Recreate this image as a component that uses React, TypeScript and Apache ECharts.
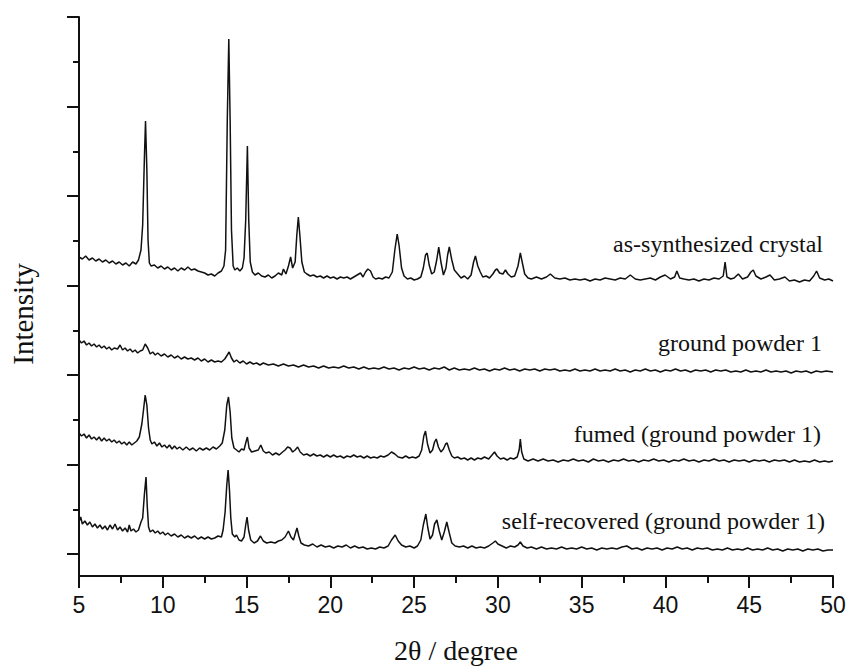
import React, { useEffect, useRef } from "react";
import * as echarts from "echarts";

// ---- axis settings (intensity in arbitrary units, traces offset vertically) ----
const X_MIN = 5;
const X_MAX = 50;
const X_STEP = 5;
const Y_MIN = -22;
const Y_MAX = 537;
const yMajorTicks = [0, 89.5, 179, 268.5, 358, 447.5, 537];
const yMinorTicks = [44.75, 134.25, 223.75, 313.25, 402.75, 492.25];

const xAxisName = "2θ / degree";
const yAxisName = "Intensity";

const traceNames = [
  "as-synthesized crystal",
  "ground powder 1",
  "fumed (ground powder 1)",
  "self-recovered (ground powder 1)",
];

// [2θ, intensity (a.u., offset)]
const asSynthesized: number[][] = [
  [5.0,297],[5.2,295],[5.4,298],[5.6,294],[5.8,296],[6.0,293],[6.2,295],[6.4,292],[6.6,294],[6.8,291],
  [7.0,293],[7.2,290],[7.4,292],[7.6,289],[7.8,291],[8.0,288],[8.2,292],[8.4,290],[8.55,294],[8.7,304],
  [8.8,329],[8.9,394],[8.97,433],[9.05,384],[9.12,314],[9.2,291],[9.3,288],[9.5,289],[9.7,286],[9.9,288],
  [10.1,285],[10.3,287],[10.5,284],[10.7,286],[10.9,283],[11.1,286],[11.3,284],[11.5,287],[11.7,284],[11.9,285],
  [12.1,283],[12.3,282],[12.5,281],[12.7,279],[12.9,280],[13.1,278],[13.3,281],[13.5,283],[13.65,288],[13.75,304],
  [13.85,434],[13.94,515],[14.02,434],[14.1,324],[14.2,288],[14.3,284],[14.45,286],[14.6,283],[14.75,286],[14.85,296],
  [14.95,334],[15.05,408],[15.13,334],[15.22,292],[15.35,282],[15.5,279],[15.7,281],[15.9,278],[16.1,277],[16.3,279],
  [16.5,276],[16.7,278],[16.9,281],[17.1,279],[17.2,285],[17.35,280],[17.5,288],[17.63,297],[17.75,286],[17.9,292],
  [18.0,319],[18.09,337],[18.18,319],[18.3,292],[18.45,282],[18.6,280],[18.8,278],[19.0,279],[19.2,277],[19.4,278],
  [19.6,276],[19.8,278],[20.0,276],[20.2,277],[20.4,275],[20.6,277],[20.8,276],[21.0,277],[21.2,275],[21.4,277],
  [21.6,279],[21.8,281],[21.95,277],[22.1,282],[22.24,285],[22.4,283],[22.55,277],[22.7,275],[22.9,276],[23.1,275],
  [23.3,277],[23.5,276],[23.7,282],[23.85,304],[23.99,320],[24.1,309],[24.25,286],[24.4,278],[24.6,275],[24.8,276],
  [25.0,274],[25.2,275],[25.4,277],[25.55,286],[25.68,299],[25.78,301],[25.9,289],[26.05,280],[26.2,282],[26.35,294],
  [26.47,307],[26.6,292],[26.75,279],[26.9,286],[27.0,299],[27.1,307],[27.25,294],[27.4,284],[27.6,280],[27.8,276],
  [28.0,278],[28.2,275],[28.4,279],[28.55,292],[28.66,298],[28.8,288],[28.95,282],[29.1,277],[29.3,278],[29.5,276],
  [29.7,280],[29.85,284],[29.95,285],[30.1,281],[30.3,280],[30.45,284],[30.6,280],[30.8,277],[31.0,278],[31.2,288],
  [31.34,301],[31.45,292],[31.6,280],[31.8,276],[32.0,275],[32.3,277],[32.6,275],[32.9,277],[33.13,280],[33.4,276],
  [33.7,275],[34.0,276],[34.3,274],[34.6,275],[34.9,274],[35.2,275],[35.5,273],[35.8,275],[36.1,274],[36.4,276],
  [36.7,275],[37.0,274],[37.3,276],[37.6,275],[37.9,279],[38.2,275],[38.5,274],[38.8,275],[39.1,276],[39.4,274],
  [39.7,277],[39.98,279],[40.3,275],[40.55,277],[40.68,283],[40.85,276],[41.1,275],[41.4,274],[41.7,275],[42.0,273],
  [42.3,275],[42.6,274],[42.9,276],[43.2,275],[43.45,278],[43.56,292],[43.67,277],[43.9,275],[44.1,276],[44.35,280],
  [44.6,275],[44.9,277],[45.1,282],[45.24,284],[45.4,278],[45.7,275],[46.0,277],[46.24,279],[46.5,274],[46.8,275],
  [47.13,277],[47.4,273],[47.7,274],[48.0,272],[48.3,274],[48.6,273],[48.85,278],[49.02,283],[49.2,276],[49.5,274],
  [49.75,275],[50.0,273],
];

const groundPowder: number[][] = [
  [5.0,214],[5.15,211],[5.3,213],[5.45,209],[5.6,211],[5.75,208],[5.9,210],[6.05,207],[6.2,209],[6.35,206],
  [6.5,208],[6.65,205],[6.8,207],[6.95,204],[7.1,206],[7.3,205],[7.45,209],[7.6,204],[7.75,206],[7.9,203],
  [8.05,205],[8.2,202],[8.35,204],[8.5,201],[8.65,203],[8.8,204],[8.95,210],[9.1,206],[9.25,200],[9.4,202],
  [9.55,199],[9.7,201],[9.9,198],[10.1,200],[10.3,197],[10.5,199],[10.7,196],[10.9,198],[11.1,195],[11.3,197],
  [11.5,195],[11.7,196],[11.9,194],[12.1,196],[12.3,193],[12.5,195],[12.7,192],[12.9,194],[13.1,192],[13.3,193],
  [13.5,192],[13.7,195],[13.85,199],[13.96,202],[14.1,196],[14.25,192],[14.4,194],[14.6,191],[14.8,193],[15.0,190],
  [15.2,192],[15.4,190],[15.6,191],[15.8,189],[16.0,191],[16.3,189],[16.6,190],[16.9,188],[17.2,190],[17.5,188],
  [17.8,189],[18.1,187],[18.4,189],[18.7,187],[19.0,188],[19.3,186],[19.6,188],[19.9,186],[20.2,187],[20.5,186],
  [20.8,188],[21.1,186],[21.4,187],[21.7,185],[22.0,187],[22.3,185],[22.6,186],[22.9,185],[23.2,187],[23.5,185],
  [23.8,186],[24.1,184],[24.4,186],[24.7,185],[25.0,187],[25.3,185],[25.6,186],[25.9,184],[26.2,186],[26.5,185],
  [26.8,187],[27.1,184],[27.4,186],[27.7,184],[28.0,185],[28.3,184],[28.6,186],[28.9,184],[29.2,185],[29.5,183],
  [29.8,185],[30.1,184],[30.4,186],[30.7,184],[31.0,185],[31.3,183],[31.6,185],[31.9,184],[32.2,185],[32.5,183],
  [32.8,185],[33.1,184],[33.4,185],[33.7,183],[34.0,184],[34.3,183],[34.6,185],[34.9,183],[35.2,184],[35.5,183],
  [35.8,185],[36.1,183],[36.4,184],[36.7,183],[37.0,185],[37.3,183],[37.6,184],[37.9,182],[38.2,184],[38.5,183],
  [38.8,185],[39.1,183],[39.4,184],[39.7,182],[40.0,184],[40.3,183],[40.6,185],[40.9,183],[41.2,184],[41.5,182],
  [41.8,184],[42.1,183],[42.4,184],[42.7,182],[43.0,184],[43.3,183],[43.6,184],[43.9,182],[44.2,183],[44.5,182],
  [44.8,184],[45.1,182],[45.4,183],[45.7,182],[46.0,184],[46.3,182],[46.6,183],[46.9,182],[47.2,183],[47.5,181],
  [47.8,183],[48.1,182],[48.4,183],[48.7,181],[49.0,183],[49.3,182],[49.6,183],[50.0,182],
];

const fumed: number[][] = [
  [5.0,121],[5.15,118],[5.3,120],[5.45,116],[5.6,119],[5.75,115],[5.9,117],[6.05,114],[6.2,117],[6.35,113],
  [6.5,116],[6.65,113],[6.8,115],[6.95,112],[7.1,114],[7.25,111],[7.4,113],[7.55,110],[7.7,112],[7.85,109],
  [8.0,112],[8.15,109],[8.3,111],[8.45,113],[8.6,117],[8.75,130],[8.85,144],[8.95,159],[9.05,149],[9.15,126],
  [9.25,114],[9.35,110],[9.5,112],[9.65,108],[9.8,111],[9.95,107],[10.1,109],[10.25,106],[10.4,109],[10.55,105],
  [10.7,108],[10.85,105],[11.0,107],[11.2,104],[11.4,107],[11.6,104],[11.8,106],[12.0,103],[12.2,106],[12.4,104],
  [12.6,106],[12.8,104],[13.0,107],[13.2,105],[13.4,108],[13.55,111],[13.7,124],[13.82,149],[13.92,157],[14.02,142],
  [14.12,116],[14.25,106],[14.4,104],[14.55,102],[14.7,105],[14.85,104],[14.95,111],[15.05,117],[15.15,106],[15.3,102],
  [15.5,103],[15.7,104],[15.85,109],[16.0,103],[16.15,101],[16.35,102],[16.55,99],[16.75,101],[16.95,99],[17.15,102],
  [17.3,104],[17.45,107],[17.6,106],[17.75,102],[17.9,104],[18.05,107],[18.2,102],[18.4,99],[18.6,100],[18.8,98],
  [19.0,100],[19.2,98],[19.4,99],[19.6,97],[19.8,99],[20.0,97],[20.2,99],[20.4,97],[20.6,98],[20.8,96],
  [21.0,98],[21.2,97],[21.4,99],[21.6,97],[21.8,98],[22.0,96],[22.2,98],[22.4,96],[22.6,97],[22.8,96],
  [23.0,98],[23.2,97],[23.45,99],[23.65,102],[23.85,100],[24.05,97],[24.3,96],[24.5,98],[24.7,96],[24.9,97],
  [25.1,96],[25.3,98],[25.45,104],[25.58,118],[25.68,123],[25.8,110],[25.95,101],[26.1,104],[26.22,112],[26.32,115],
  [26.45,107],[26.6,102],[26.75,105],[26.88,110],[26.97,111],[27.1,104],[27.25,98],[27.4,96],[27.6,97],[27.8,95],
  [28.0,96],[28.2,94],[28.4,96],[28.6,94],[28.8,96],[29.0,95],[29.2,97],[29.45,95],[29.65,99],[29.8,102],
  [29.95,98],[30.15,95],[30.35,96],[30.55,94],[30.75,96],[30.95,95],[31.15,97],[31.27,104],[31.34,115],[31.42,102],
  [31.55,95],[31.8,93],[32.1,95],[32.4,93],[32.7,95],[33.0,93],[33.3,94],[33.6,92],[33.9,94],[34.2,93],
  [34.5,95],[34.8,93],[35.1,94],[35.4,92],[35.7,95],[36.0,93],[36.3,94],[36.6,92],[36.9,94],[37.2,93],
  [37.5,95],[37.8,93],[38.1,94],[38.4,92],[38.7,94],[39.0,93],[39.3,95],[39.6,93],[39.9,94],[40.2,92],
  [40.5,94],[40.8,93],[41.1,95],[41.4,93],[41.7,94],[42.0,92],[42.3,94],[42.6,93],[42.9,95],[43.2,93],
  [43.5,94],[43.8,92],[44.1,94],[44.4,93],[44.7,94],[45.0,92],[45.3,94],[45.6,93],[45.9,94],[46.2,92],
  [46.5,94],[46.8,93],[47.1,94],[47.4,92],[47.7,94],[48.0,92],[48.3,93],[48.6,92],[48.9,94],[49.2,92],
  [49.5,93],[49.75,92],[50.0,93],
];

const selfRecovered: number[][] = [
  [5.0,32],[5.1,37],[5.2,30],[5.35,33],[5.5,29],[5.65,32],[5.8,27],[5.95,30],[6.1,26],[6.25,29],
  [6.4,25],[6.55,28],[6.7,24],[6.85,29],[7.0,25],[7.15,30],[7.3,24],[7.45,27],[7.6,23],[7.75,26],
  [7.9,22],[8.0,29],[8.1,23],[8.25,25],[8.4,22],[8.55,24],[8.7,32],[8.8,36],[8.9,59],[9.0,77],
  [9.07,49],[9.15,27],[9.25,22],[9.4,24],[9.55,21],[9.7,23],[9.85,20],[10.0,22],[10.15,19],[10.3,21],
  [10.5,18],[10.7,20],[10.9,17],[11.1,19],[11.3,16],[11.5,18],[11.7,16],[11.9,18],[12.1,15],[12.3,17],
  [12.5,15],[12.7,17],[12.9,15],[13.1,16],[13.3,18],[13.5,17],[13.6,24],[13.72,42],[13.82,69],[13.9,84],
  [13.98,64],[14.06,36],[14.15,20],[14.3,17],[14.4,19],[14.55,14],[14.7,13],[14.85,17],[14.95,29],[15.03,37],
  [15.12,24],[15.25,14],[15.45,11],[15.65,13],[15.83,18],[16.0,13],[16.2,11],[16.45,12],[16.7,11],[16.9,13],
  [17.1,14],[17.3,17],[17.5,23],[17.65,17],[17.8,14],[17.92,21],[18.01,26],[18.12,18],[18.25,11],[18.45,9],
  [18.7,8],[18.95,10],[19.2,7],[19.45,9],[19.7,7],[19.95,8],[20.2,6],[20.45,8],[20.7,7],[20.95,9],
  [21.2,6],[21.45,8],[21.7,6],[21.95,7],[22.2,5],[22.45,6],[22.7,5],[22.95,7],[23.2,6],[23.45,8],
  [23.65,14],[23.87,19],[24.05,13],[24.25,9],[24.5,7],[24.75,8],[25.0,6],[25.2,8],[25.4,14],[25.55,29],
  [25.7,40],[25.82,26],[25.95,15],[26.1,19],[26.22,30],[26.36,34],[26.5,23],[26.65,14],[26.8,22],[26.95,32],
  [27.1,21],[27.25,11],[27.45,8],[27.7,7],[27.95,8],[28.2,6],[28.45,8],[28.7,6],[28.95,7],[29.2,6],
  [29.45,8],[29.7,11],[29.85,13],[30.0,10],[30.25,8],[30.5,6],[30.75,8],[31.0,7],[31.2,9],[31.34,12],
  [31.5,8],[31.75,6],[32.0,7],[32.3,5],[32.6,7],[32.9,5],[33.2,6],[33.5,5],[33.8,7],[34.1,5],
  [34.4,6],[34.7,5],[35.0,7],[35.3,5],[35.6,6],[35.9,4],[36.2,6],[36.5,5],[36.8,6],[37.1,5],
  [37.4,7],[37.7,8],[38.0,5],[38.3,6],[38.6,4],[38.9,6],[39.2,5],[39.5,6],[39.8,4],[40.1,6],
  [40.4,5],[40.7,7],[41.0,5],[41.3,6],[41.6,4],[41.9,6],[42.2,5],[42.5,6],[42.8,4],[43.1,5],
  [43.4,4],[43.7,6],[44.0,4],[44.3,5],[44.6,4],[44.9,6],[45.2,4],[45.5,5],[45.8,4],[46.1,6],
  [46.4,4],[46.7,5],[47.0,3],[47.3,5],[47.6,4],[47.9,5],[48.2,3],[48.5,5],[48.8,4],[49.1,5],
  [49.4,3],[49.7,4],[50.0,4],
];

const traces = [asSynthesized, groundPowder, fumed, selfRecovered];

const INK = "#111111";

export default function App() {
  const ref = useRef<HTMLDivElement | null>(null);

  useEffect(() => {
    if (!ref.current) return;
    const chart = echarts.init(ref.current, null, { renderer: "svg" });

    const labelStyle = (text: string) => ({
      text,
      fontSize: 24,
      fontFamily: "Liberation Serif",
      fill: INK,
      align: "right",
      verticalAlign: "middle",
    });

    chart.setOption({
      animation: false,
      backgroundColor: "#ffffff",
      grid: { left: 78, right: 18, top: 17, bottom: 96, containLabel: false },
      xAxis: {
        type: "value",
        min: X_MIN,
        max: X_MAX,
        interval: X_STEP,
        position: "bottom",
        axisLine: { show: true, onZero: false, lineStyle: { color: INK, width: 2 } },
        axisTick: { show: true, inside: false, length: 12, lineStyle: { color: INK, width: 2 } },
        minorTick: { show: true, splitNumber: 2, length: 7, lineStyle: { color: INK, width: 2 } },
        splitLine: { show: false },
        minorSplitLine: { show: false },
        axisLabel: {
          show: true,
          margin: 17,
          fontSize: 23,
          fontFamily: "Liberation Sans",
          color: INK,
        },
        name: xAxisName,
        nameLocation: "middle",
        nameGap: 60,
        nameTextStyle: { fontSize: 28, fontFamily: "Liberation Serif", color: INK },
      },
      yAxis: [
        {
          type: "value",
          min: Y_MIN,
          max: Y_MAX,
          position: "left",
          axisLine: { show: true, onZero: false, lineStyle: { color: INK, width: 2 } },
          axisTick: {
            show: true,
            inside: false,
            length: 12,
            customValues: yMajorTicks,
            lineStyle: { color: INK, width: 2 },
          },
          axisLabel: { show: false },
          splitLine: { show: false },
          name: yAxisName,
          nameLocation: "middle",
          nameGap: 42,
          nameTextStyle: {
            fontSize: 29,
            fontFamily: "Liberation Serif",
            color: INK,
            padding: [0, 35, 0, 0],
          },
        },
        {
          type: "value",
          min: Y_MIN,
          max: Y_MAX,
          position: "left",
          offset: 0,
          axisLine: { show: false, onZero: false },
          axisTick: {
            show: true,
            inside: false,
            length: 6,
            customValues: yMinorTicks,
            lineStyle: { color: INK, width: 2 },
          },
          axisLabel: { show: false },
          splitLine: { show: false },
        },
      ],
      series: traces.map((d, i) => ({
        type: "line",
        name: traceNames[i],
        data: d,
        xAxisIndex: 0,
        yAxisIndex: 0,
        showSymbol: false,
        symbol: "none",
        silent: true,
        lineStyle: { color: INK, width: 1.5 },
      })),
      graphic: [
        { type: "text", x: 823, y: 244, style: labelStyle(traceNames[0]) },
        { type: "text", x: 822, y: 343, style: labelStyle(traceNames[1]) },
        { type: "text", x: 821, y: 434, style: labelStyle(traceNames[2]) },
        { type: "text", x: 825, y: 521, style: labelStyle(traceNames[3]) },
      ],
    });

    return () => chart.dispose();
  }, []);

  return (
    <div
      ref={ref}
      style={{ position: "fixed", left: 0, top: 0, width: 851, height: 672, background: "#fff" }}
    />
  );
}
